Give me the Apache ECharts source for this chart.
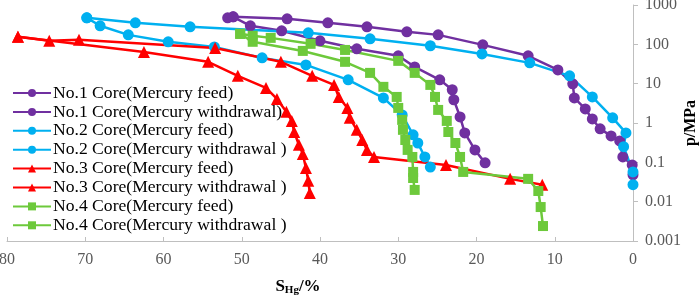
<!DOCTYPE html>
<html>
<head>
<meta charset="utf-8">
<script src="https://cdn.jsdelivr.net/npm/echarts@6/dist/echarts.min.js"></script>
<style>
  html, body { margin: 0; padding: 0; background: #fff; }
  #chart { width: 699px; height: 297px; }
</style>
</head>
<body>
<div id="chart"></div>
<script>
// [SHg %, p MPa] pairs
const core1Feed = [
  [0, 0.048], [0.1, 0.086], [1.3, 0.137], [1.7, 0.35], [2.8, 0.47], [4.2, 0.71],
  [5.2, 1.27], [6.1, 2.28], [7.5, 4.35], [7.7, 9.9], [9.6, 22.4], [13.4, 51],
  [19.2, 97], [24.9, 174], [28.9, 208], [34.0, 279], [39.0, 352], [44.2, 446],
  [51.1, 501], [51.8, 472]
];
const core1Withdrawal = [
  [51.1, 501], [48.9, 296], [44.9, 221], [40.0, 123], [35.3, 77], [30.0, 51],
  [27.9, 26.7], [24.7, 12.5], [23.1, 7.0], [22.9, 3.9], [22.1, 1.43], [21.5, 0.56],
  [20.2, 0.207], [18.9, 0.097]
];
const core2Feed = [
  [0, 0.027], [0, 0.057], [1.2, 0.25], [0.9, 0.56], [2.6, 1.35], [5.2, 4.6],
  [8.1, 15.8], [13.2, 33.8], [19.3, 57], [25.9, 92], [33.6, 138], [41.5, 196],
  [56.6, 279], [63.6, 352], [69.8, 472]
];
const core2Withdrawal = [
  [69.8, 472], [68.1, 296], [64.5, 174], [59.4, 116], [53.5, 86], [47.4, 45.3],
  [41.8, 30], [36.4, 12.5], [31.9, 4.35], [29.5, 1.6], [28.1, 0.5], [27.5, 0.31],
  [26.6, 0.137], [25.9, 0.076]
];
const core3Feed = [
  [11.6, 0.027], [15.7, 0.038], [23.9, 0.086], [33.1, 0.137], [34.0, 0.207],
  [34.6, 0.37], [35.3, 0.67], [36.2, 1.35], [36.5, 2.42], [37.6, 4.6], [38.2, 9.3],
  [41.0, 15.8], [45.0, 35.9], [53.4, 81], [70.8, 130], [74.6, 123], [78.6, 155]
];
const core3Withdrawal = [
  [78.6, 155], [62.5, 64], [54.3, 35.9], [50.5, 15.8], [46.9, 7.8], [45.5, 4.1],
  [44.3, 1.92], [43.6, 1.13], [43.3, 0.59], [42.7, 0.28], [42.2, 0.164],
  [41.8, 0.072], [41.5, 0.034], [41.3, 0.0166]
];
const core4Feed = [
  [11.5, 0.0024], [11.8, 0.0073], [12.1, 0.0187], [13.4, 0.038], [21.7, 0.057],
  [22.1, 0.137], [22.7, 0.31], [23.6, 0.59], [23.8, 1.13], [24.9, 2.15], [25.3, 4.6],
  [25.9, 9.3], [27.9, 18.8], [30.0, 38], [36.8, 72], [41.2, 103], [46.3, 146],
  [48.6, 165], [50.2, 185]
];
const core4Withdrawal = [
  [50.2, 185], [48.6, 116], [42.2, 68], [36.8, 35.9], [33.6, 18.8], [31.9, 8.3],
  [30.2, 4.6], [30.0, 2.42], [29.5, 1.2], [29.4, 0.67], [29.1, 0.37], [28.8, 0.207],
  [28.2, 0.137], [28.1, 0.057], [28.1, 0.04], [27.9, 0.0199]
];

const seriesNames = [
  "No.1 Core(Mercury feed)",
  "No.1 Core(Mercury withdrawal)",
  "No.2 Core(Mercury feed)",
  "No.2 Core(Mercury withdrawal )",
  "No.3 Core(Mercury feed)",
  "No.3 Core(Mercury withdrawal )",
  "No.4 Core(Mercury feed)",
  "No.4 Core(Mercury withdrawal )"
];
const seriesData = [
  core1Feed, core1Withdrawal, core2Feed, core2Withdrawal,
  core3Feed, core3Withdrawal, core4Feed, core4Withdrawal
];
const xTicks = [0, 80, 10];          // min, max, interval
const yTicks = [0.001, 1000];        // min, max

const PURPLE = "#7030A0";
const CYAN = "#00B0F0";
const RED = "#FF0000";
const GREEN = "#6DC93B";
const colors = [PURPLE, PURPLE, CYAN, CYAN, RED, RED, GREEN, GREEN];
const symbols = ["circle", "circle", "circle", "circle", "triangle", "triangle", "rect", "rect"];
const symbolSizes = [11, 11, 11, 11, 12, 12, 10, 10];

const font = "'Liberation Serif', 'Times New Roman', serif";
const axisGray = "#BFBFBF";

const chart = echarts.init(document.getElementById("chart"));

const option = {
  animation: false,
  backgroundColor: "#fff",
  grid: { left: 7, right: 66, top: 5, bottom: 56, containLabel: false, outerBoundsMode: "none" },
  legend: {
    orient: "vertical",
    left: 12,
    top: 84,
    padding: 0,
    itemWidth: 38,
    itemHeight: 10,
    itemGap: 0.9,
    textStyle: { fontFamily: font, fontSize: 17.6, color: "#000", lineHeight: 18, padding: [0, 0, 0, -3] },
    data: seriesNames
  },
  xAxis: {
    type: "value",
    inverse: true,
    min: xTicks[0],
    max: xTicks[1],
    interval: xTicks[2],
    splitLine: { show: false },
    axisLine: { lineStyle: { color: axisGray, width: 1 } },
    axisTick: { inside: true, length: 4, lineStyle: { color: axisGray } },
    axisLabel: { fontFamily: font, fontSize: 16, color: "#595959", margin: 11 },
    name: "{b|S}{s|Hg}{b|/%}",
    nameLocation: "middle",
    nameGap: 36,
    nameMoveOverlap: false,
    nameTextStyle: {
      padding: [0, 44, 0, 0],
      rich: {
        b: { fontFamily: font, fontSize: 17, fontWeight: "bold", color: "#000" },
        s: { fontFamily: font, fontSize: 11, fontWeight: "bold", color: "#000", verticalAlign: "bottom", padding: [8, 0, 0, 0] }
      }
    }
  },
  yAxis: {
    type: "log",
    position: "right",
    logBase: 10,
    min: yTicks[0],
    max: yTicks[1],
    splitLine: { show: false },
    minorTick: { show: false },
    axisLine: { show: true, lineStyle: { color: axisGray, width: 1 } },
    axisTick: { show: true, length: 5, lineStyle: { color: axisGray } },
    axisLabel: {
      fontFamily: font, fontSize: 16, color: "#595959", margin: 12,
      formatter: v => String(+v.toPrecision(3))
    },
    name: "p/MPa",
    nameLocation: "middle",
    nameRotate: 90,
    nameGap: 50,
    nameMoveOverlap: false,
    nameTextStyle: { fontFamily: font, fontSize: 16, fontWeight: "bold", color: "#000" }
  },
  series: seriesData.map((d, i) => ({
    type: "line",
    name: seriesNames[i],
    data: d,
    symbol: symbols[i],
    symbolSize: symbolSizes[i],
    showAllSymbol: true,
    color: colors[i],
    lineStyle: { width: 2.5, color: colors[i] },
    itemStyle: { color: colors[i] }
  }))
};

chart.setOption(option);
</script>
</body>
</html>
